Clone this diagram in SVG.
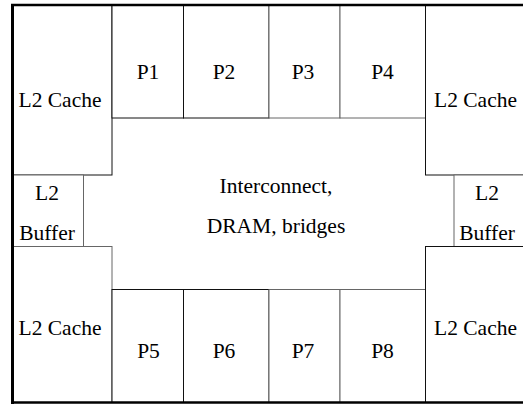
<svg xmlns="http://www.w3.org/2000/svg" width="523" height="408" viewBox="0 0 523 408">
<style>
.box{fill:#fff;stroke:#111;stroke-width:1}
.g{fill:#fff;stroke:#666;stroke-width:1}
.t{font-family:"Liberation Serif",Tinos,"Nimbus Roman","Nimbus Roman No9 L","Times New Roman",Times,FreeSerif,"Noto Serif","DejaVu Serif",serif;font-size:21.5px;fill:#000;text-anchor:middle}
.border{stroke:#000;fill:none}
</style>
<rect x="0" y="0" width="523" height="408" fill="#fff"/>
<g id="interconnect">
<text class="t" x="276" y="193">Interconnect,</text>
<text class="t" x="276" y="233">DRAM, bridges</text>
</g>
<g id="l2cache_tl"><rect class="box" x="12.5" y="5.5" width="99.5" height="169.5"/><text class="t" x="60" y="107">L2 Cache</text></g>
<g id="p1"><rect class="box" x="112" y="5.5" width="71.5" height="112.5"/><text class="t" x="148" y="79">P1</text></g>
<g id="p2"><rect class="box" x="183.5" y="5.5" width="85.5" height="112.5"/><text class="t" x="224" y="79">P2</text></g>
<g id="p3"><rect class="g" x="269" y="5.5" width="71" height="112.5"/><text class="t" x="303" y="79">P3</text></g>
<g id="p4"><rect class="g" x="340" y="5.5" width="85.5" height="112.5"/><text class="t" x="382.5" y="79">P4</text></g>
<g id="l2cache_tr"><rect class="box" x="425.5" y="5.5" width="100" height="169.5"/><text class="t" x="475.5" y="107">L2 Cache</text></g>
<g id="l2buffer_l"><rect class="g" x="12.5" y="175" width="71" height="71.5"/><text class="t" x="47" y="200">L2</text><text class="t" x="47" y="240">Buffer</text></g>
<g id="l2buffer_r"><rect class="g" x="454" y="175" width="72" height="71.5"/><text class="t" x="487" y="200">L2</text><text class="t" x="487" y="240">Buffer</text></g>
<g id="l2cache_bl"><rect class="g" x="12.5" y="246.5" width="99.5" height="156"/><text class="t" x="60" y="335">L2 Cache</text></g>
<g id="p5"><rect class="box" x="112" y="289.5" width="71.5" height="113"/><text class="t" x="148.5" y="358">P5</text></g>
<g id="p6"><rect class="box" x="183.5" y="289.5" width="85.5" height="113"/><text class="t" x="224" y="358">P6</text></g>
<g id="p7"><rect class="g" x="269" y="289.5" width="71" height="113"/><text class="t" x="303" y="358">P7</text></g>
<g id="p8"><rect class="g" x="340" y="289.5" width="85.5" height="113"/><text class="t" x="382.5" y="358">P8</text></g>
<g id="l2cache_br"><rect class="box" x="425.5" y="246.5" width="100" height="156"/><text class="t" x="475.5" y="335">L2 Cache</text></g>
<g id="connectors">
<line class="border" x1="11" y1="5" x2="523" y2="5" stroke-width="2.5"/>
<line class="border" x1="11" y1="402.5" x2="523" y2="402.5" stroke-width="2.5"/>
<line class="border" x1="12.5" y1="4" x2="12.5" y2="404" stroke-width="3"/>
</g>
</svg>
